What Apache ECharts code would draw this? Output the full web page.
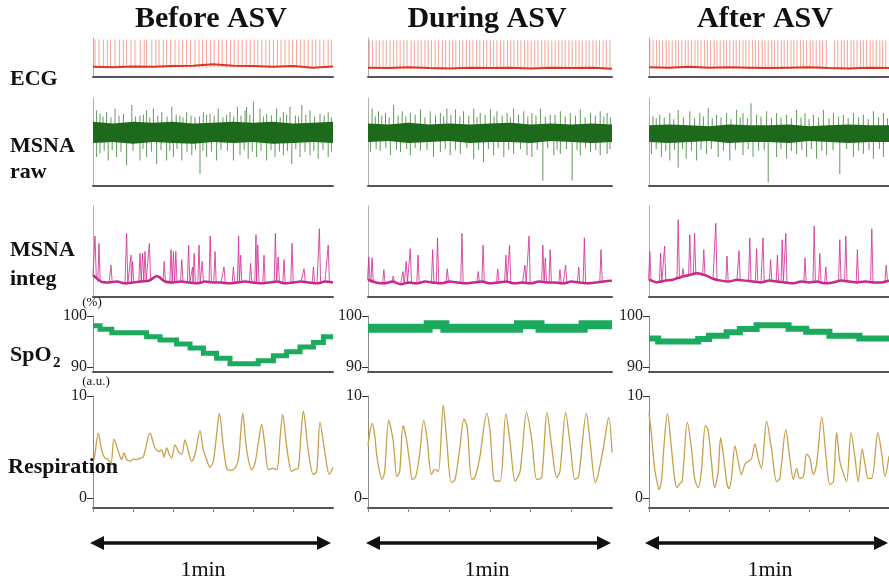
<!DOCTYPE html>
<html><head><meta charset="utf-8">
<script src="https://cdn.jsdelivr.net/npm/echarts@6/dist/echarts.min.js"></script>
<style>html,body{margin:0;padding:0;background:#fff}#c{width:889px;height:582px}</style>
</head><body><div id="c"></div>
<script>
// ---------------- DATA ----------------
const titles = ['Before ASV', 'During ASV', 'After ASV'];
const durationLabel = '1min';
const spo2Ticks = [90, 100];
const respTicks = [0, 10];
const timeTicks = [0, 10, 20, 30, 40, 50];

// ECG: R-peak times (s), baseline every 5 s, peak level
const ecgBeats1 = [0.5,1.5,2.6,3.6,4.4,5.5,6.6,7.6,8.4,9.5,10.5,11.8,12.8,13.4,14.7,15.7,16.5,17.6,18.4,19.4,20.5,21.5,22.4,23.4,24.4,25.5,26.5,27.4,28.4,29.4,30.3,31.4,32.3,33.4,34.4,35.3,36.3,37.3,38.3,39.3,40.3,41.2,42.2,43.2,44.1,45.1,46.1,47.0,48.0,49.0,49.9,50.9,51.9,52.8,53.8,54.8,55.7,56.7,57.7,58.8,59.6];
const ecgBeats2 = [0.3,1.1,2.0,2.8,3.7,4.5,5.4,6.3,7.1,7.9,8.8,9.6,10.6,11.4,12.3,13.1,14.0,14.8,15.6,16.5,17.3,18.3,19.1,20.0,20.8,21.6,22.5,23.3,24.2,25.0,25.8,26.7,27.5,28.4,29.2,30.1,30.9,31.7,32.6,33.4,34.3,35.1,35.9,36.8,37.6,38.5,39.3,40.1,41.0,41.8,42.7,43.5,44.3,45.2,46.0,46.9,47.7,48.5,49.4,50.2,51.1,51.9,52.7,53.6,54.4,55.3,56.1,56.9,57.8,58.6,59.5];
const ecgBeats3 = [0.2,1.0,1.9,2.6,3.4,4.3,5.0,5.8,6.7,7.4,8.2,9.1,9.8,10.6,11.5,12.2,13.0,13.9,14.6,15.4,16.3,17.0,17.8,18.7,19.4,20.2,21.1,21.8,22.6,23.5,24.2,25.0,25.9,26.6,27.4,28.3,29.0,29.8,30.7,31.4,32.2,33.1,33.8,34.6,35.5,36.2,37.0,37.9,38.6,39.4,40.3,41.0,41.8,42.7,43.4,44.3,46.4,47.2,48.1,48.8,49.6,50.5,51.2,52.0,52.9,53.6,54.4,55.3,56.0,56.8,57.7,58.4,59.2];
const ecgBase1 = [2.6,2.5,2.7,2.6,2.8,2.9,3.3,2.9,2.8,2.6,2.8,2.4,2.7];
const ecgBase2 = [2.4,2.3,2.5,2.3,2.2,2.4,2.3,2.4,2.2,2.4,2.3,2.4,2.1];
const ecgBase3 = [2.5,2.4,2.6,2.4,2.5,2.4,2.3,2.4,2.5,2.3,2.2,2.4,2.3];
const ecgPeak = [9.6, 9.4, 9.4];

// MSNA raw: dense core band (every 5 s) + spikes [t, value]
const rawCoreLo1 = [4.9,5.0,4.8,5.0,4.9,4.8,5.0,4.9,5.0,4.8,4.9,5.0,4.9];
const rawCoreHi1 = [7.3,7.1,7.3,7.2,7.3,7.1,7.2,7.3,7.2,7.3,7.1,7.2,7.3];
const rawCoreLo2 = [5.0,5.1,4.9,5.0,5.1,4.9,5.0,5.0,4.9,5.1,5.0,4.9,5.0];
const rawCoreHi2 = [7.1,7.0,7.2,7.0,7.1,7.0,7.1,7.2,7.0,7.1,7.0,7.1,7.0];
const rawCoreLo3 = [5.0,4.9,5.0,5.1,4.9,5.0,5.0,4.9,5.1,5.0,4.9,5.0,5.0];
const rawCoreHi3 = [6.9,7.0,6.9,6.8,7.0,6.9,6.9,7.0,6.8,6.9,7.0,6.9,6.9];
const rawUp1 = [[0.9,8.6],[1.75,8.2],[3.4,8.4],[5.5,8.8],[7.6,8.2],[9.7,9.2],[11.75,8.0],[13.4,8.6],[15.1,8.8],[17.2,8.4],[19.7,9.0],[21.75,8.0],[23.4,8.4],[25.5,7.8],[27.6,8.4],[29.25,8.2],[31.3,8.8],[34.25,8.4],[36.1,9.0],[38.0,8.6],[38.4,9.0],[40.1,9.6],[41.75,8.8],[43.4,8.2],[45.9,8.8],[47.6,8.4],[49.25,9.0],[52.2,9.2],[54.25,8.6],[56.75,8.2],[58.8,8.4],
  [2.5,7.9],[4.5,7.8],[6.5,8.0],[10.6,7.9],[12.6,8.1],[14.2,7.8],[16.2,8.0],[18.5,7.9],[20.8,8.1],[22.5,7.8],[24.5,8.0],[26.6,7.9],[28.4,8.1],[30.3,8.0],[32.5,7.8],[33.4,8.1],[35.2,7.9],[37.0,8.0],[39.2,8.1],[42.6,7.9],[44.6,8.0],[46.8,7.8],[48.4,8.1],[50.6,8.0],[51.4,7.9],[53.2,8.1],[55.4,7.9],[57.8,8.0],[59.6,7.8]];
const rawDown1 = [[0.9,3.3],[1.75,3.7],[3.8,2.9],[5.9,3.3],[8.4,2.35],[11.75,2.9],[13.4,3.3],[15.9,2.5],[18.4,2.9],[20.1,3.3],[22.2,2.9],[24.7,3.5],[26.75,1.4],[28.4,3.3],[30.9,2.9],[35.1,2.9],[36.75,3.5],[38.8,3.1],[40.9,3.3],[43.4,2.9],[45.5,3.3],[47.6,3.5],[49.7,2.5],[51.75,3.3],[54.25,3.5],[56.3,3.1],[58.8,3.3],
  [2.8,4.0],[4.8,4.1],[7.0,3.9],[10.0,4.0],[12.5,4.2],[14.6,3.9],[17.0,4.1],[19.2,4.0],[21.0,4.2],[23.5,3.9],[25.6,4.1],[27.5,4.0],[29.6,3.9],[32.0,4.1],[33.6,4.0],[37.8,4.1],[39.8,3.9],[42.0,4.0],[44.5,4.1],[46.6,3.9],[48.6,4.0],[50.7,4.2],[53.0,3.9],[55.2,4.0],[57.5,4.1],[59.6,3.9]];
const rawUp2 = [[1.0,8.8],[2.6,8.5],[4.3,8.3],[6.3,9.2],[8.4,8.5],[10.4,8.3],[12.9,8.7],[15.3,8.5],[17.8,8.3],[19.4,8.8],[21.5,8.7],[23.5,8.5],[26.0,8.8],[27.6,8.3],[30.1,8.7],[31.7,8.5],[34.2,8.3],[35.8,8.8],[38.3,8.5],[40.3,8.3],[42.4,8.8],[44.8,8.1],[47.3,8.5],[49.75,8.3],[52.2,8.7],[54.7,8.3],[57.1,8.5],[58.8,8.3],
  [1.8,7.9],[3.4,8.0],[5.2,7.8],[7.4,8.0],[9.3,7.9],[11.6,8.1],[14.0,7.8],[16.6,8.0],[18.6,7.9],[20.4,8.1],[22.6,7.9],[24.8,8.0],[26.8,7.8],[28.8,8.1],[31.0,7.9],[33.0,8.0],[35.0,7.8],[37.0,8.1],[39.3,7.9],[41.3,8.0],[43.6,7.9],[46.0,8.1],[48.5,7.9],[51.0,8.0],[53.4,7.8],[55.9,8.0],[58.0,7.9],[59.6,7.8]];
const rawDown2 = [[0.6,3.85],[3.0,4.0],[5.5,3.5],[8.0,3.85],[10.4,3.5],[12.9,4.0],[16.1,3.3],[17.8,3.85],[20.2,3.5],[22.7,3.65],[26.0,3.1],[28.4,2.7],[30.9,3.5],[33.4,3.3],[35.8,3.65],[39.1,3.5],[40.3,3.3],[43.0,0.6],[45.7,3.5],[47.3,3.65],[50.2,0.6],[52.2,3.5],[54.7,3.85],[57.1,3.5],[58.8,3.65],
  [2.0,4.2],[4.4,4.3],[7.0,4.1],[9.5,4.2],[11.6,4.3],[14.5,4.1],[19.0,4.2],[21.5,4.1],[24.3,4.3],[27.2,4.1],[29.6,4.2],[32.0,4.3],[34.6,4.1],[37.5,4.2],[41.6,4.1],[44.2,4.3],[46.5,4.1],[48.8,4.2],[51.4,4.1],[53.5,4.3],[56.0,4.1],[59.5,4.2]];
const rawUp3 = [[1.0,7.9],[2.7,8.1],[5.2,8.3],[7.3,8.65],[10.2,8.5],[12.7,8.3],[14.8,8.85],[16.9,8.1],[19.4,8.3],[21.9,8.65],[23.5,8.3],[25.5,9.4],[26.9,8.1],[29.4,8.5],[31.9,8.3],[34.4,8.1],[36.9,8.65],[39.0,8.3],[41.1,8.1],[43.6,8.65],[46.1,8.3],[48.6,8.1],[51.1,8.3],[53.6,8.1],[56.1,8.5],[58.6,8.3],
  [1.8,7.7],[3.8,7.8],[6.2,7.6],[8.6,7.8],[11.4,7.7],[13.6,7.9],[15.8,7.7],[18.0,7.8],[20.5,7.6],[22.8,7.8],[24.6,7.7],[28.0,7.9],[30.6,7.7],[33.0,7.8],[35.6,7.7],[38.0,7.8],[40.0,7.6],[42.4,7.8],[45.0,7.7],[47.4,7.9],[49.8,7.7],[52.4,7.8],[54.8,7.6],[57.4,7.8],[59.6,7.7]];
const rawDown3 = [[0.6,3.65],[3.1,3.3],[5.2,2.9],[7.3,2.1],[9.3,3.1],[11.9,2.9],[14.4,3.65],[17.3,3.3],[20.2,2.9],[23.5,3.5],[26.0,3.3],[29.8,0.4],[31.9,3.3],[34.4,3.1],[36.9,3.65],[39.4,3.3],[41.9,3.1],[44.4,3.5],[47.7,1.35],[51.1,3.3],[53.6,3.65],[56.1,3.1],[58.6,3.3],
  [1.8,4.2],[4.2,4.0],[6.4,4.1],[8.4,4.2],[10.6,4.0],[13.0,4.1],[15.6,4.2],[18.6,4.0],[21.6,4.1],[24.8,4.2],[27.4,4.0],[28.8,4.1],[33.0,4.2],[35.6,4.0],[38.2,4.1],[40.6,4.2],[43.2,4.0],[46.0,4.1],[49.4,4.2],[52.4,4.0],[55.0,4.1],[57.6,4.2]];

// MSNA integrated: baseline every 2 s + bursts [t, height]
const integBase1 = [2.4,1.7,1.6,1.7,1.5,1.6,1.7,1.8,2.3,1.7,1.6,1.7,1.6,1.5,1.7,1.6,1.6,1.5,1.6,1.7,1.6,1.5,1.6,1.7,1.5,1.6,1.7,1.6,1.5,1.7,1.6];
const integBase2 = [1.9,1.6,1.5,1.7,1.4,1.6,1.5,1.7,1.6,1.5,1.7,1.6,1.5,1.6,1.7,1.5,1.6,1.7,1.5,1.6,1.5,1.7,1.6,1.6,1.5,1.7,1.6,1.5,1.6,1.7,1.8];
const integBase3 = [1.9,1.6,1.8,1.9,2.2,2.4,2.6,2.4,2.0,1.8,1.7,1.9,1.8,1.7,1.6,1.8,1.7,1.6,1.5,1.7,1.6,1.7,1.5,1.6,1.8,1.7,1.6,1.7,1.6,1.6,1.8];
const integBursts1 = [[0.5,6.7],[1.5,5.9],[4.5,3.5],[8.4,7.0],[9.5,4.6],[9.9,3.9],[11.75,4.8],[12.4,4.8],[13.0,5.0],[14.1,5.9],[17.8,3.9],[19.5,5.2],[20.1,5.0],[20.7,5.0],[22.2,4.1],[23.9,5.7],[24.9,3.3],[25.3,4.8],[26.5,5.7],[27.3,3.9],[29.3,6.7],[30.5,5.0],[32.75,3.3],[35.1,3.3],[36.4,6.7],[36.9,4.6],[39.4,3.7],[40.75,6.85],[41.2,5.7],[42.75,4.6],[45.6,7.0],[46.3,4.4],[47.75,4.1],[49.75,5.9],[52.75,3.1],[55.1,3.3],[56.6,7.5],[58.8,5.7]];
const integBursts2 = [[0.2,4.4],[1.0,4.3],[3.9,3.0],[6.2,2.3],[8.6,2.8],[9.4,3.9],[10.4,5.3],[12.3,4.6],[15.9,5.2],[17.1,6.5],[19.5,3.1],[23.1,7.0],[27.1,2.8],[28.3,5.7],[31.9,3.1],[33.9,4.6],[34.8,5.7],[38.6,3.5],[39.6,6.7],[43.0,5.7],[43.6,4.3],[44.8,5.2],[47.2,3.0],[48.6,3.5],[51.8,3.3],[53.2,6.5],[57.3,5.2]];
const integBursts3 = [[0.2,5.0],[2.9,4.8],[3.9,5.6],[7.3,8.5],[8.5,3.1],[10.2,6.85],[11.4,7.0],[13.7,5.2],[16.7,8.1],[19.5,4.5],[22.5,5.1],[25.2,6.5],[26.9,5.3],[28.5,6.5],[30.4,4.1],[32.1,4.6],[33.3,6.3],[34.2,7.0],[39.0,4.3],[41.3,7.8],[42.7,4.8],[44.2,3.3],[47.7,6.3],[49.2,6.7],[52.1,5.2],[55.7,7.5],[59.3,3.5]];

// SpO2 (%) step levels: start times (s) and values
const spo2Times1 = [0,1.75,4.7,13.4,16.75,20.9,24.25,27.6,30.9,34.25,41.3,45.1,48.4,51.75,55.1,57.6];
const spo2Vals1  = [98.1,97.4,96.7,95.9,95.3,94.5,93.7,92.7,91.7,90.6,91.2,92.2,93.0,93.9,94.8,95.9];
const spo2Times2 = [0,14.8,18.9,37.0,42.3,52.9];
const spo2Vals2  = [97.6,98.3,97.6,98.3,97.6,98.3];
const spo2Times3 = [0,2.3,12.3,15.0,19.4,22.7,26.9,34.9,39.3,45.1,52.6];
const spo2Vals3  = [95.6,95.0,95.5,96.1,96.8,97.45,98.2,97.5,96.9,96.1,95.6];

// Respiration (a.u.) [t, value]
const resp1 = [[0,3.6],[0.33,3.9],[1.33,6.35],[2.2,4.6],[3.0,3.9],[3.83,3.75],[4.5,3.4],[5.25,5.75],[6.33,4.55],[7.17,3.75],[7.75,4.4],[8.42,3.75],[9.25,3.6],[10.08,3.8],[10.92,3.75],[11.75,3.9],[12.58,4.0],[14.25,6.35],[15.5,4.9],[16.58,4.55],[17.17,4.7],[17.75,4.0],[18.42,4.9],[19.08,4.25],[19.67,3.9],[20.5,5.2],[21.33,4.55],[22.17,4.25],[23.0,5.7],[23.83,4.55],[24.67,3.6],[25.5,4.25],[26.75,6.6],[27.58,4.7],[28.42,3.75],[29.25,3.0],[30.08,3.6],[30.9,6.2],[31.58,8.3],[32.58,5.05],[33.42,2.9],[34.2,2.7],[35.08,2.75],[36.33,3.75],[36.9,6.3],[37.42,8.3],[38.42,4.7],[39.67,2.75],[40.5,3.4],[41.4,5.6],[42.17,7.2],[43.0,5.05],[43.83,2.75],[44.9,2.9],[45.92,2.75],[46.8,6.0],[47.42,8.2],[48.42,5.05],[49.67,2.6],[50.5,2.8],[51.33,2.9],[52.0,6.2],[52.58,8.5],[53.83,4.55],[55.08,2.3],[55.92,2.6],[56.75,7.4],[58.0,4.4],[59.08,2.3],[60.0,3.0]];
const resp2 = [[0,5.1],[0.4,6.3],[1.0,7.3],[1.6,6.3],[2.2,4.0],[2.9,2.5],[3.45,1.8],[4.1,2.6],[5.1,7.6],[6.2,5.6],[7.1,2.1],[7.8,2.6],[8.6,7.1],[9.4,5.9],[10.3,3.3],[10.9,1.8],[11.75,2.1],[12.7,4.3],[13.7,7.6],[14.5,5.9],[15.6,2.3],[16.4,2.8],[17.3,2.6],[18.5,9.1],[19.3,5.9],[20.5,1.5],[21.4,1.8],[22.6,4.95],[23.6,7.75],[24.4,6.9],[25.5,1.8],[26.3,2.0],[27.5,4.0],[29.2,8.3],[30.0,6.6],[31.2,1.65],[32.5,1.65],[33.9,8.25],[34.9,5.6],[36.2,1.65],[37.4,2.6],[39.0,8.4],[40.3,5.6],[41.5,1.8],[42.7,2.0],[44.0,8.4],[45.2,4.95],[46.4,2.0],[47.2,2.6],[48.6,8.4],[49.7,5.3],[50.9,1.8],[51.8,2.1],[53.7,8.3],[54.6,5.6],[55.9,1.5],[56.7,2.5],[57.9,4.95],[59.2,7.9],[60.0,4.45]];
const resp3 = [[0,8.3],[0.6,6.3],[1.4,2.9],[2.0,1.6],[2.5,0.8],[3.1,1.6],[3.7,4.9],[4.6,8.3],[5.6,4.9],[6.4,1.9],[7.0,1.0],[7.7,1.4],[8.3,1.6],[9.6,7.4],[10.6,4.9],[11.4,1.9],[12.3,1.0],[13.1,2.6],[14.1,7.1],[14.8,6.6],[15.6,3.6],[16.4,1.0],[17.3,2.6],[17.9,5.9],[18.7,3.9],[19.4,1.6],[20.0,0.9],[20.6,1.9],[21.5,5.1],[22.3,3.6],[23.1,2.3],[24.0,3.3],[24.8,3.6],[25.6,3.8],[26.5,5.3],[27.3,3.9],[28.1,2.9],[29.4,7.5],[30.6,4.9],[31.9,1.6],[32.7,1.9],[34.2,6.7],[35.2,3.9],[36.1,1.8],[36.9,2.9],[37.7,1.9],[38.6,2.1],[39.4,4.3],[40.2,3.9],[41.1,2.3],[41.9,3.3],[43.2,7.9],[44.2,4.3],[45.2,1.3],[46.1,1.6],[46.9,6.4],[47.7,3.6],[48.6,2.4],[49.4,1.6],[50.5,6.4],[51.5,3.9],[52.3,1.6],[53.3,4.8],[54.0,3.3],[54.8,1.9],[55.7,1.9],[57.2,6.4],[58.2,4.3],[59.0,2.1],[60.0,4.1]];

// ---------------- LAYOUT ----------------
const FONT = '"Liberation Serif", "DejaVu Serif", serif';
const COLS = [{left:93,width:240,title:211,minLbl:203,ax:[90,331]},{left:368,width:244,title:487,minLbl:487,ax:[366,611]},{left:649,width:240,title:765,minLbl:770,ax:[645,888]}];
const ROWS = {
  ecg:{top:38,height:39,min:0,max:10},
  raw:{top:98,height:88,min:0,max:10},
  integ:{top:206,height:91,min:0,max:10},
  spo2:{top:316,height:56,min:89,max:100},
  resp:{top:396,height:112,min:-1,max:10}
};
const COLORS = {ecgBase:'#e0341f', ecgSpike:'#f27f6e', raw:'#1d6a1d', rawSpike:'#3b7d35', integ:'#d23296', integBase:'#c4237f', spo2:'#1cab5e', resp:'#c7a04c'};

const grid = [], xAxis = [], yAxis = [], series = [];

function addPanel(c, key){
  const R = ROWS[key], C = COLS[c], i = grid.length;
  const labelled = key === 'spo2' || key === 'resp';
  const yTicks = key === 'spo2' ? spo2Ticks : respTicks;
  grid.push({left:C.left, top:R.top, width:C.width, height:R.height});
  xAxis.push({gridIndex:i, type:'value', min:0, max:60,
    axisLine:{show:true, onZero:false, lineStyle:{color:'#555', width:2}},
    axisTick:{show:key==='resp', customValues:timeTicks, length:4, inside:false, lineStyle:{color:'#888', width:1}},
    axisLabel:{show:false}, splitLine:{show:false}});
  yAxis.push({gridIndex:i, type:'value', min:R.min, max:R.max,
    axisLine:{show:true, onZero:false, lineStyle:{color: labelled ? '#888' : '#b0b0b0', width:1}},
    axisTick:{show:labelled, customValues:yTicks, length:6, lineStyle:{color:'#333', width:1}},
    axisLabel:{show:labelled, customValues:yTicks, fontFamily:FONT, fontSize:16, color:'#222', margin:6},
    splitLine:{show:false}});
  return i;
}

function vlines(i, data, color, width, opacity){
  return {type:'custom', xAxisIndex:i, yAxisIndex:i, silent:true, animation:false, clip:true,
    encode:{x:0, y:[1,2]}, data:data,
    renderItem:function(params, api){
      const p0 = api.coord([api.value(0), api.value(1)]);
      const p1 = api.coord([api.value(0), api.value(2)]);
      return {type:'line', shape:{x1:p0[0], y1:p0[1], x2:p1[0], y2:p1[1]}, style:{stroke:color, lineWidth:width, opacity:opacity}};
    }};
}
// band between lo/hi sampled at given times, drawn as one polygon through the axes' scales
function band(i, times, lo, hi, color){
  const data = times.map((t,k) => [t, lo[k], hi[k]]);
  return {type:'custom', xAxisIndex:i, yAxisIndex:i, silent:true, animation:false, clip:true,
    encode:{x:0, y:[1,2]}, data:data,
    renderItem:function(params, api){
      if (params.dataIndex !== 0) return null;
      const top = data.map(d => api.coord([d[0], d[2]]));
      const bot = data.slice().reverse().map(d => api.coord([d[0], d[1]]));
      return {type:'polygon', shape:{points:top.concat(bot)}, style:{fill:color}};
    }};
}
function line(i, data, color, width, extra){
  return Object.assign({type:'line', xAxisIndex:i, yAxisIndex:i, data:data, symbol:'none', silent:true, animation:false,
    lineStyle:{color:color, width:width}}, extra || {});
}

const ecgBeats = [ecgBeats1, ecgBeats2, ecgBeats3];
const ecgBases = [ecgBase1, ecgBase2, ecgBase3];
const rawLo = [rawCoreLo1, rawCoreLo2, rawCoreLo3], rawHi = [rawCoreHi1, rawCoreHi2, rawCoreHi3];
const rawUps = [rawUp1, rawUp2, rawUp3], rawDowns = [rawDown1, rawDown2, rawDown3];
const integBases = [integBase1, integBase2, integBase3], integBursts = [integBursts1, integBursts2, integBursts3];
const spo2T = [spo2Times1, spo2Times2, spo2Times3], spo2V = [spo2Vals1, spo2Vals2, spo2Vals3];
const spo2Width = [5, 9, 6];
const resps = [resp1, resp2, resp3];

for (let c = 0; c < 3; c++){
  // ECG
  let i = addPanel(c, 'ecg');
  const baseLow = Math.min.apply(null, ecgBases[c]);
  series.push(vlines(i, ecgBeats[c].map(t => [t, baseLow, ecgPeak[c]]), COLORS.ecgSpike, 0.8, 0.9));
  series.push(line(i, ecgBases[c].map((v,k) => [k*5, v]), COLORS.ecgBase, 2));

  // MSNA raw
  i = addPanel(c, 'raw');
  const lo = rawLo[c], hi = rawHi[c];
  const mid = (Math.min.apply(null, lo) + Math.max.apply(null, hi)) / 2;
  series.push(vlines(i, rawUps[c].map(p => [p[0], mid, p[1]]), COLORS.rawSpike, 1, 0.8));
  series.push(vlines(i, rawDowns[c].map(p => [p[0], mid, p[1]]), COLORS.rawSpike, 1, 0.8));
  series.push(band(i, lo.map((v,k) => k*5), lo, hi, COLORS.raw));

  // MSNA integrated
  i = addPanel(c, 'integ');
  const base = integBases[c];
  const pts = base.map((v,k) => [k*2, v]).filter(p => !integBursts[c].some(b => Math.abs(b[0]-p[0]) < 0.4));
  integBursts[c].forEach(b => { const bv = base[Math.min(base.length-1, Math.round(b[0]/2))]; pts.push([b[0]-0.3, bv], [b[0], b[1]], [b[0]+0.3, bv]); });
  pts.sort((a,b) => a[0]-b[0]);
  series.push(line(i, base.map((v,k) => [k*2, v]), COLORS.integBase, 2.5, {smooth:0.2}));
  series.push(line(i, pts, COLORS.integ, 1, {lineStyle:{color:COLORS.integ, width:1, opacity:0.85}}));

  // SpO2
  i = addPanel(c, 'spo2');
  const sd = spo2T[c].map((t,k) => [t, spo2V[c][k]]);
  sd.push([60, spo2V[c][spo2V[c].length-1]]);
  series.push(line(i, sd, COLORS.spo2, spo2Width[c], {step:'end', lineStyle:{color:COLORS.spo2, width:spo2Width[c], cap:'butt', join:'miter'}}));

  // Respiration
  i = addPanel(c, 'resp');
  series.push(line(i, resps[c], COLORS.resp, 1.3, {smooth:0.3}));
}

// ---------------- TEXT / ANNOTATIONS ----------------
const graphic = [];
function txt(text, x, y, size, weight, align){
  graphic.push({type:'text', z:100, silent:true, style:{text:text, x:x, y:y, fontFamily:FONT, fontSize:size, fontWeight:weight, fill:'#111', align:align||'left', verticalAlign:'middle'}});
}
COLS.forEach((C, c) => {
  txt(titles[c], C.title, 19, 30, 'bold', 'center');
  txt(durationLabel, C.minLbl, 570, 22, 'normal', 'center');
  const y = 543, a = C.ax;
  graphic.push({type:'line', z:100, silent:true, shape:{x1:a[0]+10, y1:y, x2:a[1]-10, y2:y}, style:{stroke:'#111', lineWidth:3.5}});
  graphic.push({type:'polygon', z:100, silent:true, shape:{points:[[a[0],y],[a[0]+14,y-7],[a[0]+14,y+7]]}, style:{fill:'#111'}});
  graphic.push({type:'polygon', z:100, silent:true, shape:{points:[[a[1],y],[a[1]-14,y-7],[a[1]-14,y+7]]}, style:{fill:'#111'}});
});
txt('ECG', 10, 79, 22, 'bold');
txt('MSNA', 10, 146, 22, 'bold');
txt('raw', 10, 172, 22, 'bold');
txt('MSNA', 10, 250, 22, 'bold');
txt('integ', 10, 279, 22, 'bold');
txt('SpO', 10, 355, 22, 'bold');
txt('2', 53, 363, 15, 'bold');
txt('Respiration', 8, 467, 22, 'bold');
txt('(%)', 92, 303, 13, 'normal', 'center');
txt('(a.u.)', 96, 382, 13, 'normal', 'center');

const chart = echarts.init(document.getElementById('c'), null, {renderer:'canvas', width:889, height:582});
chart.setOption({animation:false, backgroundColor:'#fff', grid, xAxis, yAxis, series, graphic});
</script>
</body></html>
